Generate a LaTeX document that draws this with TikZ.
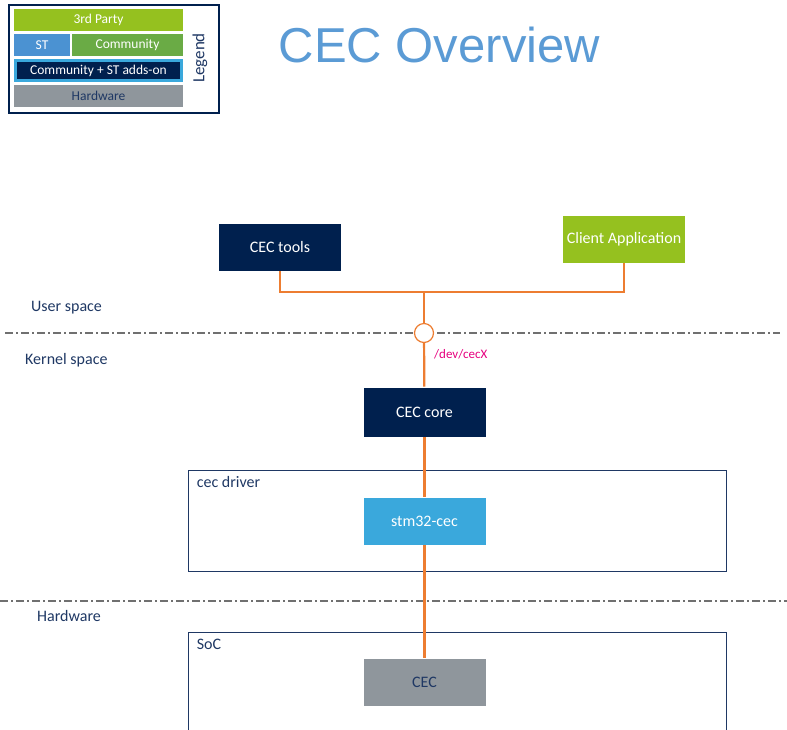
\documentclass[tikz,border=0pt]{standalone}
\usepackage{fontspec}
\setmainfont{Carlito}
\newfontfamily\titlefont{Liberation Sans}
\usepackage{tikz}
\usetikzlibrary{arrows.meta}
\usetikzlibrary{positioning}
\usetikzlibrary{calc}

\definecolor{navy}{HTML}{00204E}
\definecolor{labelnavy}{HTML}{1F3864}
\definecolor{thirdparty}{HTML}{95C11F}
\definecolor{stblue}{HTML}{4B92D2}
\definecolor{community}{HTML}{6AAB45}
\definecolor{addon}{HTML}{3AA8DC}
\definecolor{hwgrey}{HTML}{8F969C}
\definecolor{linkorange}{HTML}{ED7D31}
\definecolor{devpink}{HTML}{E6007E}
\definecolor{titleblue}{HTML}{5B9BD5}
\definecolor{sepgrey}{HTML}{707070}

\begin{document}
\begin{tikzpicture}[
    x=1pt, y=-1pt,
    block/.style={
        rectangle, draw=white, line width=0.6pt,
        minimum width=123pt,
        minimum height=48pt,
        inner sep=0pt,
        font=\fontsize{16}{19}\selectfont,
        text=white
    },
    group/.style={
        rectangle, draw=labelnavy, line width=0.8pt,
        minimum width=538pt,
        inner sep=0pt
    },
    grouplabel/.style={
        anchor=north west, inner sep=0pt,
        font=\fontsize{16}{19}\selectfont,
        text=labelnavy
    },
    spacelabel/.style={
        anchor=west, inner sep=0pt,
        font=\fontsize{16}{19}\selectfont,
        text=labelnavy
    },
    legitem/.style={
        rectangle, inner sep=0pt,
        minimum height=22pt,
        font=\fontsize{13.5}{16}\selectfont,
        text=white
    },
    link/.style={draw=linkorange, line width=2.2pt},
    separator/.style={draw=sepgrey, line width=1.2pt,
        dash pattern=on 8pt off 3pt on 2pt off 3pt}
]
\useasboundingbox (0,0) rectangle (787,729);
\clip (0,0) rectangle (787,729);

% legend
\node[draw=navy, line width=2pt, minimum width=210pt, minimum height=108pt, inner sep=0pt] (legend) at (114,59) {};
\node[legitem, fill=thirdparty, minimum width=169pt] (party) at (98.5,20) {3rd Party};
\node[legitem, fill=stblue, minimum width=56pt] (st) at (42,45) {ST};
\node[legitem, fill=community, minimum width=111pt] (comm) at (127.5,45) {Community};
\node[legitem, fill=navy, draw=addon, line width=3pt, minimum width=166pt, minimum height=20pt] (addons) at (98.5,70.5) {Community + ST adds-on};
\node[legitem, fill=hwgrey, text=labelnavy, minimum width=169pt] (hwleg) at (98.5,96) {Hardware};
\node[rotate=90, inner sep=0pt, text=labelnavy, font=\fontsize{17}{20}\selectfont] (legendtxt) at (200,58) {Legend};

% title
\node[text=titleblue, font=\titlefont\fontsize{49}{56}\selectfont, inner sep=0pt] (title) at (439.5,45) {CEC Overview};

% space separators
\draw[separator] (5,333) -- (780,333);
\draw[separator] (0,601) -- (787,601);
\node[spacelabel] (user) at (31,308) {User space};
\node[spacelabel] (kernel) at (25,360) {Kernel space};
\node[spacelabel] (hwspace) at (37,616) {Hardware};

% groups
\node[group, minimum height=101pt] (driver) at (457,520.5) {};
\node[grouplabel] at ($(driver.north west)+(9,7)$) {cec driver};
\node[group, minimum height=106pt] (soc) at (457,685) {};
\node[grouplabel] at ($(soc.north west)+(9,7)$) {SoC};

% blocks
\node[block, fill=navy] (tools) at (280,247) {CEC tools};
\node[block, fill=thirdparty] (client) at (624,239) {Client Application};
\node[block, fill=navy, minimum height=50pt] (core) at (424.5,412) {CEC core};
\node[block, fill=addon] (stm) at (424.5,521) {stm32-cec};
\node[block, fill=hwgrey, text=labelnavy] (cec) at (424.5,682) {CEC};

% interface
\coordinate (bus) at (424,292);
\node[circle, draw=linkorange, fill=white, line width=1.2pt, minimum size=19pt, inner sep=0pt] (dev) at (424,333) {};
\node[anchor=west, inner sep=0pt, text=devpink, font=\fontsize{13}{15}\selectfont] (devname) at (434,354) {/dev/cecX};

% links
\draw[link] (tools.south) |- (bus) -| (client.south);
\draw[link] (bus) -- (dev);
\draw[link] (dev) -- (core);
\draw[link] (core) -- (stm);
\draw[link] (stm) -- (cec);
\end{tikzpicture}
\end{document}
